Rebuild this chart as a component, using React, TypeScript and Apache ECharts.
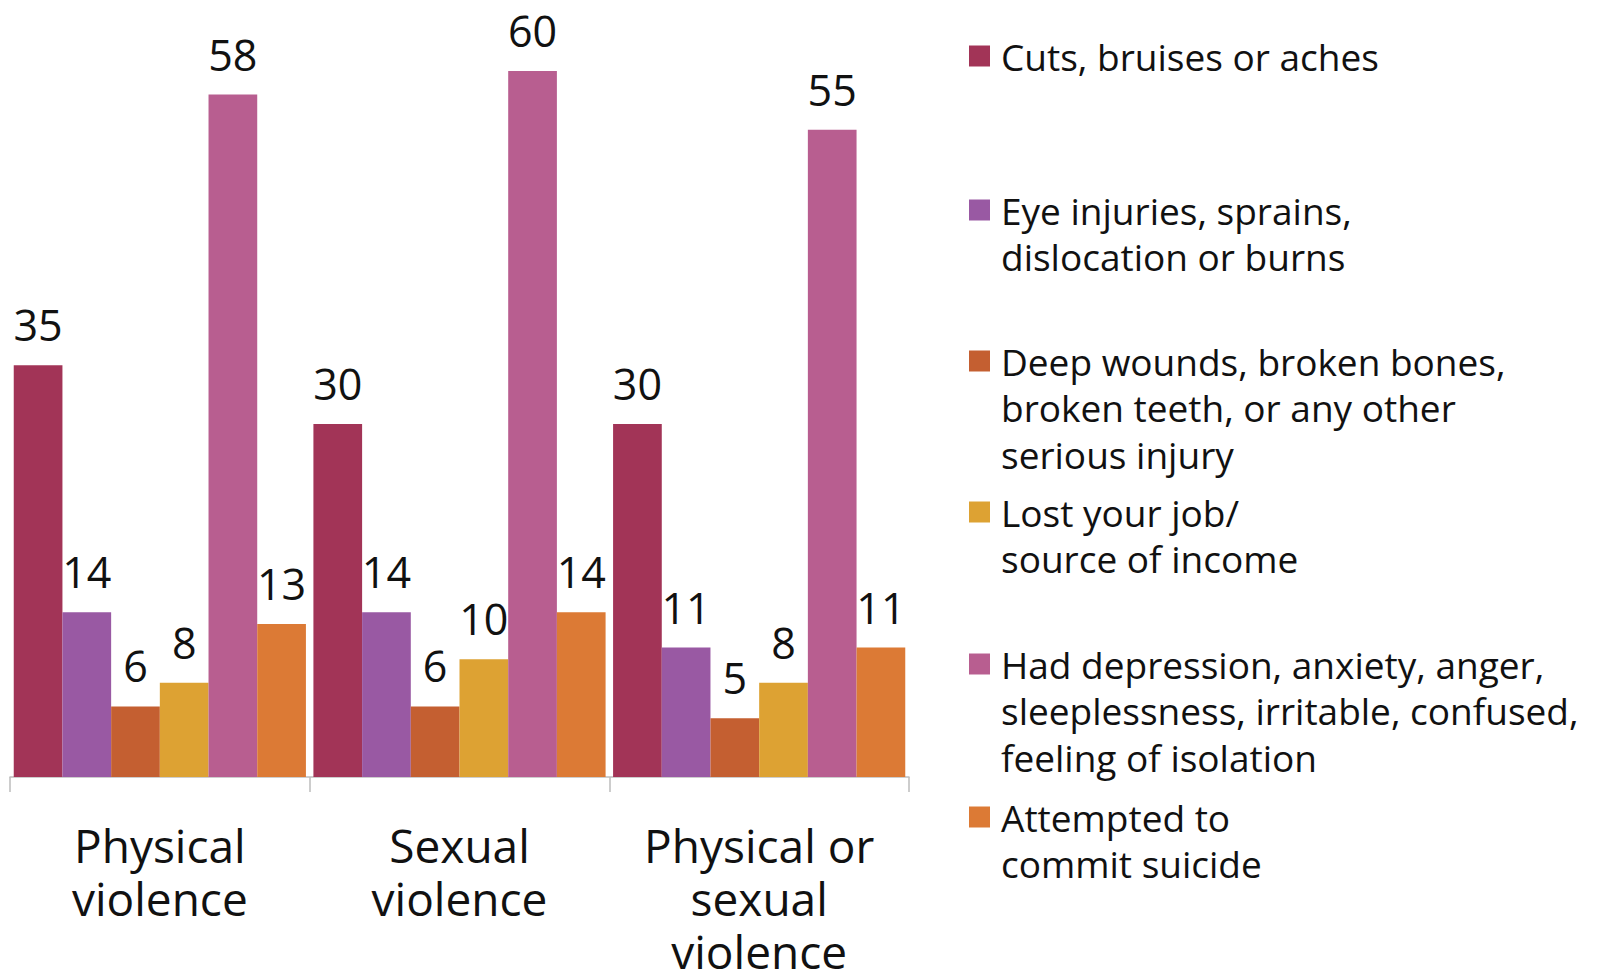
import React, { useEffect, useRef } from "react";
import * as echarts from "echarts";

// ---- data ----
const categories = ["Physical\nviolence", "Sexual\nviolence", "Physical or\nsexual\nviolence"];
const seriesNames = [
  "Cuts, bruises or aches",
  "Eye injuries, sprains,\ndislocation or burns",
  "Deep wounds, broken bones,\nbroken teeth, or any other\nserious injury",
  "Lost your job/\nsource of income",
  "Had depression, anxiety, anger,\nsleeplessness, irritable, confused,\nfeeling of isolation",
  "Attempted to\ncommit suicide",
];
const cuts = [35, 30, 30];
const eyeInjuries = [14, 14, 11];
const deepWounds = [6, 6, 5];
const lostJob = [8, 10, 8];
const depression = [58, 60, 55];
const suicide = [13, 14, 11];
const seriesValues = [cuts, eyeInjuries, deepWounds, lostJob, depression, suicide];
const colors = ["#A23457", "#9959A3", "#C45F31", "#DDA233", "#B85E90", "#DC7A35"];

// ---- layout ----
const FONT = "'Open Sans', sans-serif";
const legendCenters = [56, 210, 361, 512, 664, 817];
const LEG_LH = 46.5;
const LEG_FS = 37;
const ICON = 21;

export default function App() {
  const ref = useRef<HTMLDivElement>(null);
  useEffect(() => {
    document.body.style.margin = "0";
    if (!ref.current) return;
    const chart = echarts.init(ref.current, null, { renderer: "svg" });

    const legends = seriesNames.map((name, i) => {
      const n = name.split("\n").length;
      return {
        data: [name],
        orient: "vertical",
        left: 969,
        top: legendCenters[i] - ((2 * n - 1) * LEG_LH) / 2,
        padding: 0,
        itemGap: 0,
        itemWidth: ICON,
        itemHeight: ICON,
        icon: "rect",
        selectedMode: false,
        formatter: (nm: string) => "\n".repeat(n - 1) + nm,
        textStyle: {
          fontFamily: FONT,
          fontSize: LEG_FS,
          lineHeight: LEG_LH,
          color: "#111",
          padding: [0, 0, 0, 6],
        },
      };
    });

    chart.setOption({
      animation: false,
      backgroundColor: "#fff",
      color: colors,
      legend: legends,
      grid: {
        left: 10,
        right: 701,
        top: 71,
        bottom: 202,
        containLabel: false,
        outerBoundsMode: "none",
      },
      xAxis: {
        type: "category",
        data: categories,
        axisLine: { show: true, lineStyle: { color: "#BDBDBD", width: 1.5 } },
        axisTick: { show: true, length: 15, lineStyle: { color: "#BDBDBD", width: 1.5 } },
        axisLabel: {
          fontFamily: FONT,
          fontSize: 46,
          lineHeight: 53,
          color: "#111",
          margin: 41,
          interval: 0,
        },
      },
      yAxis: { type: "value", min: 0, max: 60, show: false, splitLine: { show: false } },
      series: seriesNames.map((name, i) => ({
        type: "bar",
        name,
        data: seriesValues[i],
        barGap: "0%",
        barCategoryGap: "2.5%",
        itemStyle: { color: colors[i] },
        label: {
          show: true,
          position: "top",
          distance: 19,
          fontFamily: FONT,
          fontSize: 43,
          color: "#111",
        },
      })),
    });
    return () => chart.dispose();
  }, []);
  return <div ref={ref} style={{ width: 1610, height: 979 }} />;
}
